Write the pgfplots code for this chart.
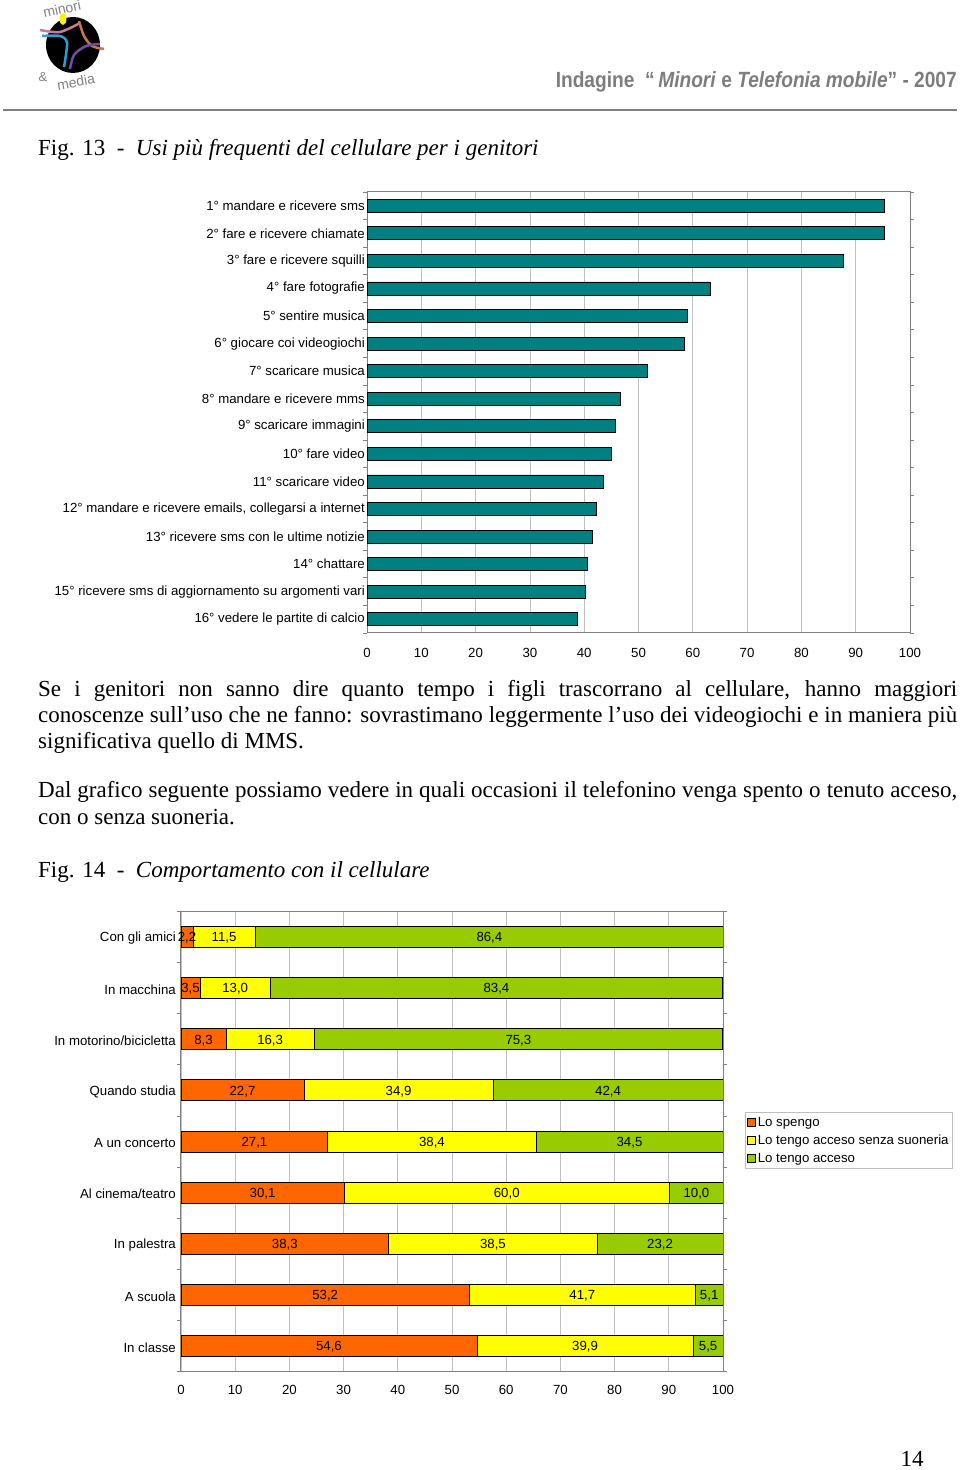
\documentclass[border=0pt]{standalone}
\usepackage{fontspec}
\setmainfont{Liberation Serif}
\setsansfont{Liberation Sans}
\newfontfamily\headfont[FakeStretch=0.87]{Liberation Sans}
\usepackage{pgfplots}
\pgfplotsset{compat=1.18}
\usepackage{pgfplotstable}
\definecolor{tealbar}{RGB}{0,128,128}
\definecolor{sorange}{RGB}{255,102,0}
\definecolor{syellow}{RGB}{255,255,0}
\definecolor{sgreen}{RGB}{153,204,0}
\definecolor{gridgray}{RGB}{192,192,192}
\definecolor{axisgray}{RGB}{128,128,128}
\definecolor{headgray}{RGB}{125,125,125}
\definecolor{legendgray}{RGB}{190,190,190}
\definecolor{logopink}{RGB}{205,120,160}
\definecolor{logoblue}{RGB}{40,160,210}
\definecolor{logobrown}{RGB}{200,120,70}
\definecolor{logopurple}{RGB}{110,80,170}
\newcommand\cf{\sffamily\fontsize{13.25}{15}\selectfont}
\newcommand\bodyf{\rmfamily\fontsize{23}{26}\selectfont}

\pgfplotstableread{
y a b c la lb lc
1 2.2 11.5 86.4 2,2 11,5 86,4
2 3.5 13.0 83.4 3,5 13,0 83,4
3 8.3 16.3 75.3 8,3 16,3 75,3
4 22.7 34.9 42.4 22,7 34,9 42,4
5 27.1 38.4 34.5 27,1 38,4 34,5
6 30.1 60.0 10.0 30,1 60,0 10,0
7 38.3 38.5 23.2 38,3 38,5 23,2
8 53.2 41.7 5.1 53,2 41,7 5,1
9 54.6 39.9 5.5 54,6 39,9 5,5
}\datatwo

\begin{document}
\begin{tikzpicture}[x=1pt,y=1pt]
\path[use as bounding box] (0,0) rectangle (960,1470);
% ---- logo ----
\fill[black] (73,1425) ellipse [x radius=27, y radius=28];
\fill[yellow] (63,1451) ellipse [x radius=3.5, y radius=6];
\draw[logopink, line width=2.5pt] plot[smooth] coordinates {(40,1440) (60,1438) (80,1447)};
\draw[logoblue, line width=2.5pt] plot[smooth] coordinates {(42,1434) (60,1434) (67,1427) (64,1403)};
\draw[logobrown, line width=2.5pt] plot[smooth] coordinates {(79,1449) (84,1434) (92,1424) (104,1421)};
\draw[logopurple, line width=2.5pt] plot[smooth] coordinates {(70,1401) (74,1415) (86,1424) (100,1426)};
\node[rotate=12, text=gray, font=\sffamily\fontsize{14}{15}\selectfont, inner sep=0] at (62,1461) {minori};
\node[text=gray, font=\sffamily\fontsize{13}{14}\selectfont, inner sep=0] at (43,1393) {\&};
\node[rotate=10, text=gray, font=\sffamily\fontsize{14}{15}\selectfont, inner sep=0] at (76,1388) {media};
% ---- header ----
\node[anchor=base east, font=\headfont\bfseries\fontsize{22}{24}\selectfont, text=headgray, inner sep=0] at (957,1382) {Indagine \ “\,\textit{Minori} e \textit{Telefonia mobile}” - 2007};
\draw[axisgray, line width=1.5pt] (3,1360) -- (957,1360);
% ---- texts ----
\node[anchor=base west, inner sep=0, font=\bodyf] at (38,1314) {Fig. 13 \ - \ \textit{Usi più frequenti del cellulare per i genitori}};
\node[anchor=base west, inner sep=0, font=\bodyf] at (38,773) {\makebox[919pt][s]{Se i genitori non sanno dire quanto tempo i figli trascorrano al cellulare, hanno maggiori}};
\node[anchor=base west, inner sep=0, font=\bodyf] at (38,747) {\makebox[919pt][s]{conoscenze sull’uso che ne fanno: sovrastimano leggermente l’uso dei videogiochi e in maniera più}};
\node[anchor=base west, inner sep=0, font=\bodyf] at (38,721) {significativa quello di MMS.};
\node[anchor=base west, inner sep=0, font=\bodyf] at (38,672) {\makebox[919pt][s]{Dal grafico seguente possiamo vedere in quali occasioni il telefonino venga spento o tenuto acceso,}};
\node[anchor=base west, inner sep=0, font=\bodyf] at (38,645) {con o senza suoneria.};
\node[anchor=base west, inner sep=0, font=\bodyf] at (38,592) {Fig. 14 \ - \ \textit{Comportamento con il cellulare}};
\node[anchor=base, inner sep=0, font=\bodyf] at (912,3) {14};
% ---- chart 1 ----
\begin{axis}[
  at={(367pt,837pt)}, anchor=south west,
  scale only axis, width=543pt, height=441pt,
  xmin=0, xmax=100, ymin=0.5, ymax=16.5, y dir=reverse,
  xtick={0,10,...,100},
  ytick={1,...,16},
  yticklabels={1° mandare e ricevere sms, 2° fare e ricevere chiamate, 3° fare e ricevere squilli, 4° fare fotografie, 5° sentire musica, 6° giocare coi videogiochi, 7° scaricare musica, 8° mandare e ricevere mms, 9° scaricare immagini, 10° fare video, 11° scaricare video, {12° mandare e ricevere emails, collegarsi a internet}, 13° ricevere sms con le ultime notizie, 14° chattare, 15° ricevere sms di aggiornamento su argomenti vari, 16° vedere le partite di calcio},
  minor ytick={0.5,1.5,...,16.5},
  xmajorgrids, grid style={draw=gridgray, line width=0.8pt},
  axis line style={draw=axisgray, line width=1pt},
  tick align=outside, major tick length=0pt, minor tick length=4pt,
  minor tick style={draw=axisgray, line width=0.8pt},
  yticklabel style={font=\cf, anchor=east, inner sep=0pt, xshift=-2pt},
  xticklabel style={font=\cf, inner sep=0pt, yshift=-15pt},
  /pgf/number format/assume math mode=true,
]
\addplot[xbar, bar width=13pt, fill=tealbar, draw=black, line width=0.8pt] coordinates {
(95.3,1) (95.3,2) (87.7,3) (63.2,4) (59.0,5) (58.4,6) (51.7,7) (46.6,8) (45.7,9) (45.1,10) (43.5,11) (42.3,12) (41.5,13) (40.6,14) (40.2,15) (38.8,16)};
\end{axis}
% ---- chart 2 ----
\begin{axis}[
  at={(181pt,98.5pt)}, anchor=south west,
  scale only axis, width=542pt, height=460pt,
  xmin=0, xmax=100, ymin=0.5, ymax=9.5, y dir=reverse,
  xtick={0,10,...,100},
  ytick={1,...,9},
  yticklabels={Con gli amici, In macchina, In motorino/bicicletta, Quando studia, A un concerto, Al cinema/teatro, In palestra, A scuola, In classe},
  minor ytick={0.5,1.5,...,9.5},
  xmajorgrids, grid style={draw=gridgray, line width=0.8pt},
  axis line style={draw=axisgray, line width=1pt},
  tick align=outside, major tick length=0pt, minor tick length=4pt,
  minor tick style={draw=axisgray, line width=0.8pt},
  yticklabel style={font=\cf, anchor=east, inner sep=0pt, xshift=-5pt, yshift=-1.5pt},
  xticklabel style={font=\cf, inner sep=0pt, yshift=-14pt},
  /pgf/number format/assume math mode=true,
  legend style={at={(1.0406,0.564)}, anchor=north west, draw=legendgray, font=\cf, inner xsep=2pt, inner ysep=3pt, row sep=3pt},
  legend cell align=left,
  reverse legend,
  legend image code/.code={\draw[#1, draw=black, line width=0.6pt] (0pt,-4pt) rectangle (8pt,4pt);},
]
\addplot[xbar, bar shift=0pt, bar width=21pt, fill=sgreen, draw=black, line width=0.8pt] table[x expr=\thisrow{a}+\thisrow{b}+\thisrow{c}, y=y] {\datatwo};
\addlegendentry{Lo tengo acceso}
\addplot[xbar, bar shift=0pt, bar width=21pt, fill=syellow, draw=black, line width=0.8pt] table[x expr=\thisrow{a}+\thisrow{b}, y=y] {\datatwo};
\addlegendentry{Lo tengo acceso senza suoneria}
\addplot[xbar, bar shift=0pt, bar width=21pt, fill=sorange, draw=black, line width=0.8pt] table[x=a, y=y] {\datatwo};
\addlegendentry{Lo spengo}
% value labels, centred in each segment
\addplot[forget plot, only marks, mark=none, nodes near coords, point meta=explicit symbolic,
  every node near coord/.style={font=\cf, anchor=center, inner sep=0pt, yshift=-1pt}]
  table[x expr=\thisrow{a}/2, y=y, meta=la] {\datatwo};
\addplot[forget plot, only marks, mark=none, nodes near coords, point meta=explicit symbolic,
  every node near coord/.style={font=\cf, anchor=center, inner sep=0pt, yshift=-1pt}]
  table[x expr=\thisrow{a}+\thisrow{b}/2, y=y, meta=lb] {\datatwo};
\addplot[forget plot, only marks, mark=none, nodes near coords, point meta=explicit symbolic,
  every node near coord/.style={font=\cf, anchor=center, inner sep=0pt, yshift=-1pt}]
  table[x expr=\thisrow{a}+\thisrow{b}+\thisrow{c}/2, y=y, meta=lc] {\datatwo};
\end{axis}
\end{tikzpicture}
\end{document}
